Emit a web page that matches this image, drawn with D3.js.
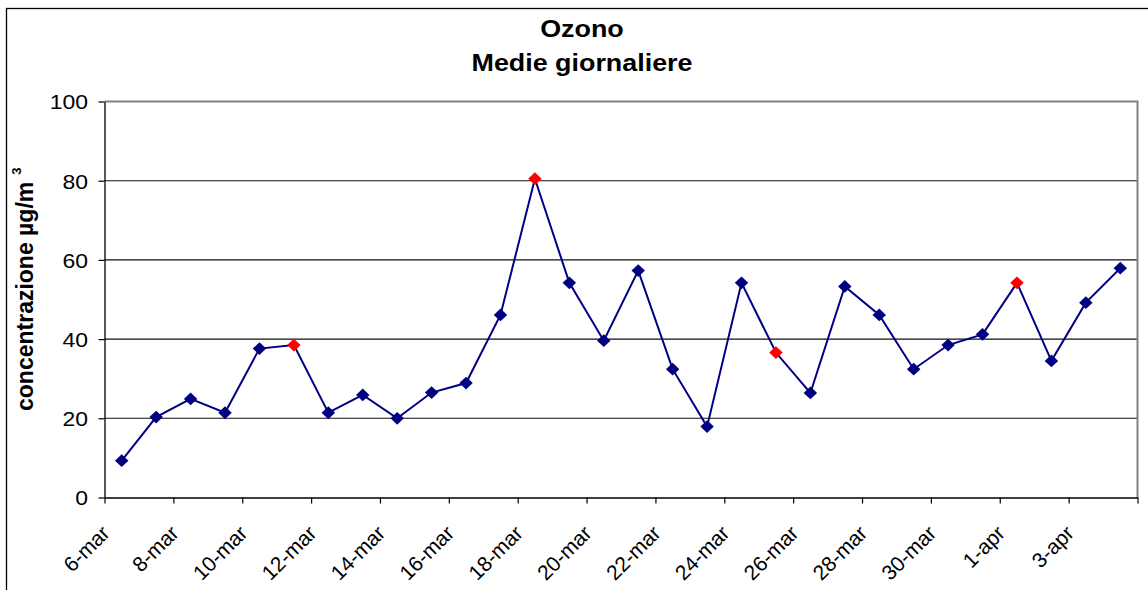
<!DOCTYPE html>
<html>
<head>
<meta charset="utf-8">
<script src="https://cdn.jsdelivr.net/npm/d3@7"></script>
<style>
  html, body { margin: 0; padding: 0; background: #fff; }
  svg { display: block; font-family: "Liberation Sans", Arial, sans-serif; }
</style>
</head>
<body>
<svg id="chart" width="1148" height="590"></svg>
<script>
// ---- data ----
const days = ["6-mar","7-mar","8-mar","9-mar","10-mar","11-mar","12-mar","13-mar","14-mar","15-mar",
              "16-mar","17-mar","18-mar","19-mar","20-mar","21-mar","22-mar","23-mar","24-mar","25-mar",
              "26-mar","27-mar","28-mar","29-mar","30-mar","31-mar","1-apr","2-apr","3-apr","4-apr"];
const values = [9.3, 20.3, 24.9, 21.4, 37.6, 38.5, 21.4, 25.9, 20.0, 26.5,
                28.9, 46.1, 80.5, 54.2, 39.6, 57.3, 32.4, 17.9, 54.2, 36.6,
                26.4, 53.3, 46.1, 32.4, 38.5, 41.2, 54.2, 34.5, 49.2, 57.9];
const highlighted = ["11-mar","18-mar","25-mar","1-apr"];
const xTickLabels = ["6-mar","8-mar","10-mar","12-mar","14-mar","16-mar","18-mar","20-mar",
                     "22-mar","24-mar","26-mar","28-mar","30-mar","1-apr","3-apr"];
const yTicks = [0, 20, 40, 60, 80, 100];
const titleLines = ["Ozono", "Medie giornaliere"];
const yLabel = "concentrazione µg/m";
const yLabelSup = "3";

// ---- layout ----
const SX = 1.12; // horizontal text stretch seen in the reference
const L = 104.5, R = 1137.5, T = 101.5, B = 497.5;
const FONT = '"Liberation Sans", Arial, sans-serif';
const svg = d3.select("#chart");

const x = d3.scaleLinear().domain([0, days.length]).range([L, R]);
const y = d3.scaleLinear().domain([0, 100]).range([B, T]);

// outer frame
svg.append("rect").attr("x", 6.5).attr("y", 8.5).attr("width", 1160).attr("height", 600)
  .attr("fill", "#fff").attr("stroke", "#000").attr("stroke-width", 1.3);

// gridlines
svg.append("g").selectAll("line").data(yTicks.filter(d => d > 0 && d < 100)).join("line")
  .attr("x1", L).attr("x2", R).attr("y1", d => y(d)).attr("y2", d => y(d))
  .attr("stroke", "#111").attr("stroke-width", 1.1);

// plot border (top & right, gray)
svg.append("path")
  .attr("d", `M${L},${T}H${R}V${B}`)
  .attr("fill", "none").attr("stroke", "#808080").attr("stroke-width", 2);

// y axis
const yAxis = svg.append("g").attr("transform", `translate(${L},0)`)
  .call(d3.axisLeft(y).tickValues(yTicks).tickSize(6).tickSizeOuter(0));
yAxis.select(".domain").attr("stroke", "#000").attr("stroke-width", 1.3);
yAxis.selectAll(".tick line").attr("stroke", "#000").attr("stroke-width", 1.2);
yAxis.selectAll(".tick text")
  .attr("x", -16.5 / SX).attr("dy", "0.36em")
  .attr("transform", `scale(${SX},1)`)
  .attr("font-size", 20.5).attr("fill", "#000")
  .style("font-family", FONT);

// x axis
const tickIdx = xTickLabels.map(l => days.indexOf(l)).concat([days.length]);
const labelOf = new Map(xTickLabels.map(l => [days.indexOf(l), l]));
const xAxis = svg.append("g").attr("transform", `translate(0,${B})`)
  .call(d3.axisBottom(x).tickValues(tickIdx).tickSize(6).tickSizeOuter(0)
        .tickFormat(i => labelOf.get(i) || ""));
xAxis.select(".domain").attr("stroke", "#000").attr("stroke-width", 1.3);
xAxis.selectAll(".tick line").attr("stroke", "#000").attr("stroke-width", 1.2);
xAxis.selectAll(".tick text")
  .attr("x", 0).attr("y", 0).attr("dy", 0)
  .attr("text-anchor", "end")
  .attr("transform", "translate(6,37) rotate(-45)")
  .attr("font-size", 21).attr("fill", "#000")
  .style("font-family", FONT);

// line
const line = d3.line().x((d, i) => x(i + 0.5)).y(d => y(d));
svg.append("path").datum(values).attr("d", line)
  .attr("fill", "none").attr("stroke", "#000080").attr("stroke-width", 2);

// markers (diamonds = rotated squares)
const square = d3.symbol().type(d3.symbolSquare).size(82);
svg.append("g").selectAll("path").data(values).join("path")
  .attr("d", square)
  .attr("transform", (d, i) => `translate(${x(i + 0.5)},${y(d)}) scale(1.05,1) rotate(45)`)
  .attr("fill", (d, i) => highlighted.includes(days[i]) ? "#ff0000" : "#000080");

// title
const title = svg.append("text").attr("font-weight", "bold").attr("font-size", 24)
  .attr("text-anchor", "middle").attr("transform", `translate(582,0) scale(${SX},1)`)
  .style("font-family", FONT);
title.selectAll("tspan").data(titleLines).join("tspan")
  .attr("x", 0).attr("y", (d, i) => i === 0 ? 37.5 : 71).text(d => d);

// y label
const yl = svg.append("text").attr("font-weight", "bold").attr("font-size", 23)
  .attr("text-anchor", "start").style("font-family", FONT)
  .attr("transform", "translate(33,411) rotate(-90)");
yl.append("tspan").text(yLabel);
yl.append("tspan").attr("font-size", 13).attr("dx", 7).attr("dy", -12).text(yLabelSup);
</script>
</body>
</html>
